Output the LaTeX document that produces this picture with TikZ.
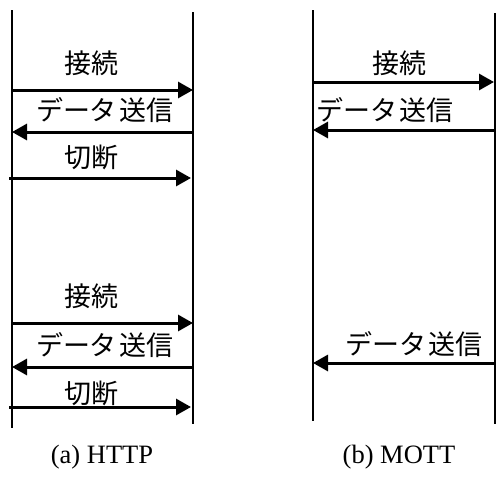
\documentclass[tikz,border=0pt]{standalone}
\usepackage{fontspec}
\setmainfont{Liberation Serif}
\newfontfamily\jp{Noto Sans CJK JP}
\usetikzlibrary{arrows.meta}
\tikzset{
  lifeline/.style={line width=2pt,black},
  msg/.style={line width=3pt,-{Triangle[length=15pt,width=16pt]},shorten >=0pt},
  lbl/.style={font=\jp\fontsize{27}{30}\selectfont,inner sep=0pt,anchor=center},
  captext/.style={font=\fontsize{26.5}{30}\selectfont,inner sep=0pt,anchor=center}
}
\begin{document}
\begin{tikzpicture}[x=1pt,y=-1pt]
\useasboundingbox (0,0) rectangle (496,483);
% lifelines
\coordinate (aLt) at (12,10);  \coordinate (aLb) at (12,428);
\coordinate (aRt) at (193,12); \coordinate (aRb) at (193,424);
\coordinate (bLt) at (313,10); \coordinate (bLb) at (313,421);
\coordinate (bRt) at (495,13); \coordinate (bRb) at (495,424);
\draw[lifeline] (aLt) -- (aLb);
\draw[lifeline] (aRt) -- (aRb);
\draw[lifeline] (bLt) -- (bLb);
\draw[lifeline] (bRt) -- (bRb);
% arrow end points (a)
\coordinate (a1s) at (11,90);  \coordinate (a1e) at (193,90);
\coordinate (a2s) at (193,132); \coordinate (a2e) at (12,132);
\coordinate (a3s) at (9,178);  \coordinate (a3e) at (191,178);
\coordinate (a4s) at (11,323); \coordinate (a4e) at (193,323);
\coordinate (a5s) at (193,367); \coordinate (a5e) at (12,367);
\coordinate (a6s) at (9,407);  \coordinate (a6e) at (191,407);
% arrow end points (b)
\coordinate (b1s) at (313,82); \coordinate (b1e) at (494,82);
\coordinate (b2s) at (495,130); \coordinate (b2e) at (313,130);
\coordinate (b3s) at (495,363); \coordinate (b3e) at (313,363);
\draw[msg] (a1s) -- (a1e);
\draw[msg] (a2s) -- (a2e);
\draw[msg] (a3s) -- (a3e);
\draw[msg] (a4s) -- (a4e);
\draw[msg] (a5s) -- (a5e);
\draw[msg] (a6s) -- (a6e);
\draw[msg] (b1s) -- (b1e);
\draw[msg] (b2s) -- (b2e);
\draw[msg] (b3s) -- (b3e);
% labels
\node[lbl] (t1) at (91,63) {接続};
\node[lbl] (t2) at (105,110) {データ\kern3pt送信};
\node[lbl] (t3) at (91,157) {切断};
\node[lbl] (t4) at (91,296) {接続};
\node[lbl] (t5) at (105,345) {データ\kern3pt送信};
\node[lbl] (t6) at (91,393) {切断};
\node[lbl] (u1) at (399,63) {接続};
\node[lbl] (u2) at (385,110) {データ\kern3pt送信};
\node[lbl] (u3) at (414,344) {データ\kern3pt送信};
% captions
\node[captext] (ca) at (102,457) {(a) HTTP};
\node[captext] (cb) at (399,457) {(b) MOTT};
\end{tikzpicture}
\end{document}
